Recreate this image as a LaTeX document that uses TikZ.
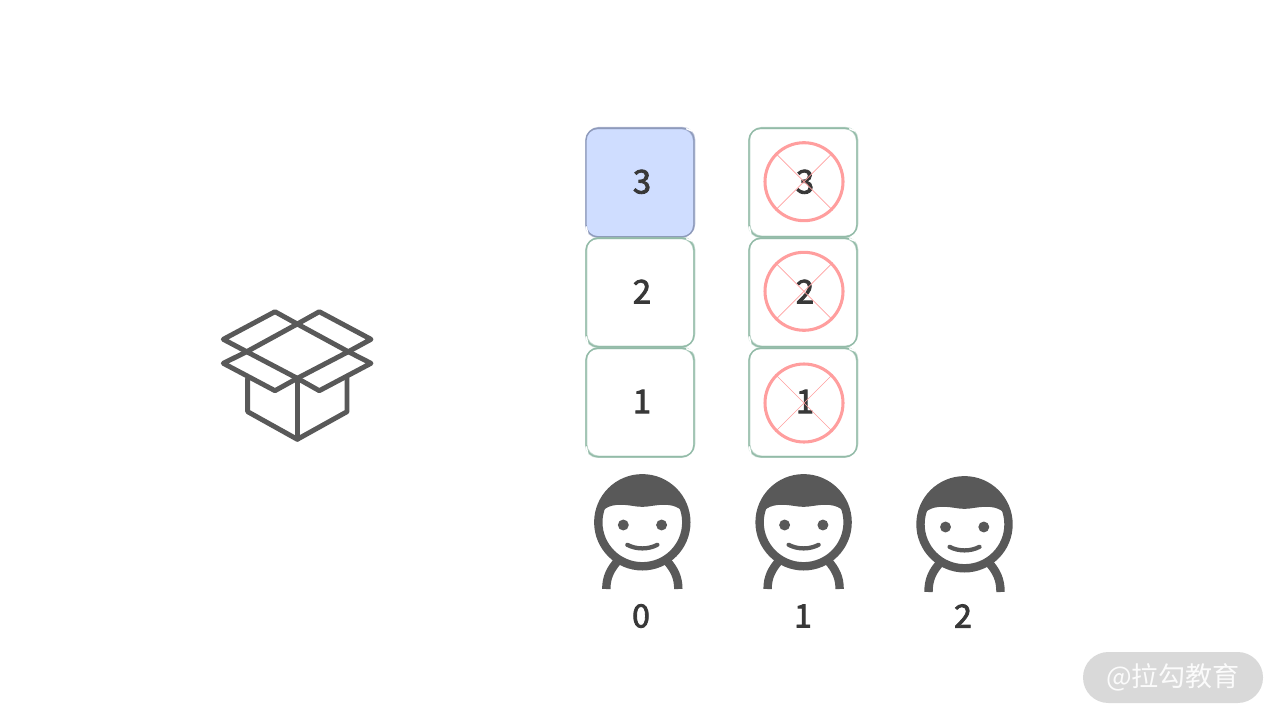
\documentclass[tikz,border=0pt]{standalone}
\usepackage{fontspec}
\setmainfont{Noto Sans CJK SC}
\newfontfamily\digitfont[FakeBold=2.6]{Noto Sans CJK SC}
\definecolor{ink}{HTML}{595959}
\definecolor{digit}{HTML}{383838}
\definecolor{greenline}{HTML}{93BBA8}
\definecolor{blueline}{HTML}{8E9ABB}
\definecolor{bluefill}{HTML}{CFDDFF}
\definecolor{redline}{HTML}{FF9E9E}
\definecolor{pill}{HTML}{D9D9D9}
\tikzset{
  x=0.75pt,y=-0.75pt,
  cellbox/.style={rectangle,rounded corners=9pt,minimum width=81pt,minimum height=81.5pt,
    inner sep=0pt,line width=1pt,text=digit,font=\digitfont\fontsize{24.5pt}{26pt}\selectfont,
    execute at begin node={\hspace*{3pt}},
    preaction={draw,line width=0.9pt,opacity=.6,transform canvas={xshift=.5pt,yshift=.5pt}},
    postaction={draw,line width=0.7pt,opacity=.5,transform canvas={xshift=-.4pt,yshift=-.5pt}}},
  plainbox/.style={cellbox,draw=greenline},
  bluebox/.style={cellbox,draw=blueline,fill=bluefill},
  nick/.style={white,line width=1.1pt,line cap=round},
  forbid/.style={circle,draw=redline,line width=2.3pt,minimum size=58.5pt,inner sep=0pt},
  crossline/.style={redline,line width=0.5pt},
  boxicon/.style={ink,line width=3.7pt,line join=round,line cap=round},
  caption/.style={text=digit,inner sep=0pt,font=\digitfont\fontsize{24pt}{26pt}\selectfont},
  pillshape/.style={rectangle,rounded corners=19pt,fill=pill,minimum width=135pt,minimum height=38.25pt,
    inner sep=0pt,text=white!90!pill,font=\fontsize{20.3pt}{22pt}\selectfont},
  pics/person/.style={code={
    \draw[ink,line width=6.3pt] (-36,#1) .. controls (-36,55) and (-32,47) .. (-24,38);
    \draw[ink,line width=6.3pt] (36,#1) .. controls (36,55) and (32,47) .. (24,38);
    \begin{scope}
      \clip (0,0) circle[radius=33pt];
      \fill[ink] (-46,-2) .. controls (-41,-13) and (-34,-17.5) .. (-22,-17.5)
        .. controls (-12,-17.5) and (-8,-15.5) .. (0,-15.5)
        .. controls (8,-15.5) and (12,-17.5) .. (22,-17.5)
        .. controls (34,-17.5) and (41,-13) .. (46,-2) -- (50,-60) -- (-50,-60) -- cycle;
    \end{scope}
    \draw[ink,line width=6.3pt] (0,0) circle[radius=33pt];
    \fill[ink] (-19,2.7) circle[radius=4.1pt];
    \fill[ink] (19.3,2.7) circle[radius=4.1pt];
    \draw[ink,line width=3.2pt,line cap=round] (-15,22.5) .. controls (-6,27.3) and (6,27.3) .. (15,22.5);
  }}
}
\begin{document}
\begin{tikzpicture}
\useasboundingbox (0,0) rectangle (1280,720);
% open carton
\begin{scope}[boxicon]
  \coordinate (ct) at (297.3,324);
  \coordinate (cr) at (348.3,351.7);
  \coordinate (cc) at (297.3,378.3);
  \coordinate (cl) at (246.7,351.7);
  \draw (ct) -- (cr) -- (cc) -- (cl) -- cycle;
  \draw (cl) -- (223.3,339.3) -- (275,311.7) -- (ct);
  \draw (ct) -- (319.3,311.7) -- (371,339.3) -- (cr);
  \draw (cl) -- (223.3,363.3) -- (275,390.7) -- (cc);
  \draw (cr) -- (371,363.3) -- (319.3,390.7) -- (cc);
  \draw (247.7,378.3) -- (247.7,411.7) -- (297.3,439.3) -- (347,411.7) -- (347,378.3);
  \draw (cc) -- (297.3,439.3);
\end{scope}
% column 0
\node[bluebox]  (a3) at (640,182.5) {\raisebox{1.4pt}{3}};
\node[plainbox] (a2) at (640,292.5) {\raisebox{1.4pt}{2}};
\node[plainbox] (a1) at (640,402.5) {\raisebox{1.4pt}{1}};
% column 1
\node[plainbox] (b3) at (803,182.5) {\raisebox{1.4pt}{3}};
\node[plainbox] (b2) at (803,292.5) {\raisebox{1.4pt}{2}};
\node[plainbox] (b1) at (803,402.5) {\raisebox{1.4pt}{1}};
% sketch nicks
\foreach \n in {a3,a2,a1,b3,b2,b1}{
  \draw[nick] ([xshift=.7pt,yshift=8pt]\n.south west) -- ([xshift=1.8pt,yshift=3pt]\n.south west);
  \draw[nick] ([xshift=-6pt,yshift=-1pt]\n.north east) -- ([xshift=-2.2pt,yshift=-2.6pt]\n.north east);
}
% crossed circles
\foreach \n/\y in {c3/181.7,c2/291.3,c1/403}{
  \node[forbid] (\n) at (804,\y) {};
  \draw[crossline] (\n.north west) -- (\n.south east);
  \draw[crossline] (\n.north east) -- (\n.south west);
}
% people
\pic at (642.3,522.3) {person=66.7};
\pic at (803.6,522.3) {person=66.7};
\pic at (964.5,524.3) {person=67.7};
\node[caption] (n0) at (641,616) {0};
\node[caption] (n1) at (803,616) {1};
\node[caption] (n2) at (963,616) {2};
% watermark
\node[pillshape] (wm) at (1173,677.5) {@拉勾教育};
\end{tikzpicture}
\end{document}
